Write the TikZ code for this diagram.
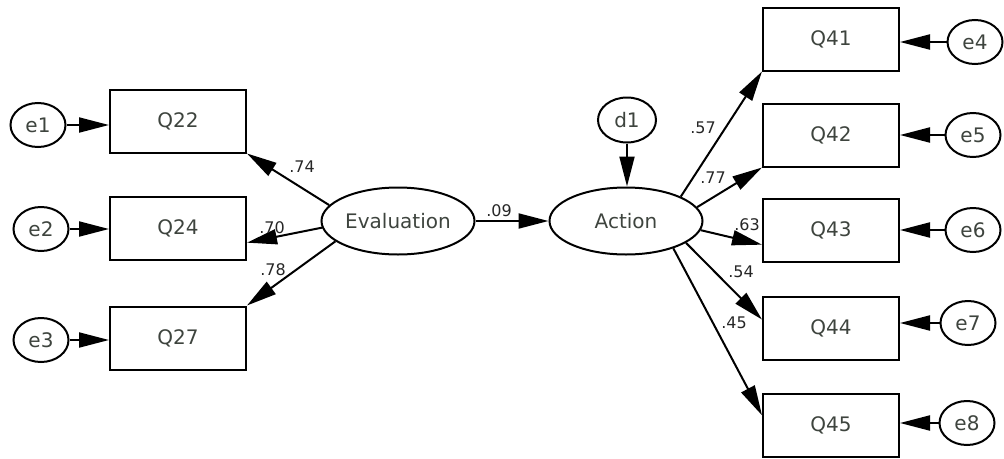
\documentclass[tikz,border=0pt]{standalone}
\usepackage{fontspec}
\setmainfont{DejaVu Sans}
\usetikzlibrary{arrows.meta,shapes.geometric}
\definecolor{txtgray}{RGB}{62,68,62}

\begin{document}
\begin{tikzpicture}[x=1pt,y=-1pt,
    obs/.style={draw,line width=2pt,minimum width=136pt,minimum height=63pt,
      font=\fontsize{20}{24}\selectfont,text=txtgray},
    lat/.style={draw,ellipse,line width=2pt,inner sep=0pt,minimum width=153pt,
      minimum height=67pt,font=\fontsize{20}{24}\selectfont,text=txtgray},
    err/.style={draw,ellipse,line width=2pt,inner sep=0pt,minimum width=55pt,
      minimum height=44pt,font=\fontsize{20}{24}\selectfont,text=txtgray},
    arr/.style={line width=2pt,-{Triangle[length=30pt,width=15pt]}},
    coef/.style={font=\fontsize{16}{18}\selectfont,text=black!85}]
    \useasboundingbox (0,0) rectangle (1004,458);

    % left measurement part
    \node[obs] (Q22) at (178,121) {Q22};
    \node[obs] (Q24) at (178,228) {Q24};
    \node[obs] (Q27) at (178,338) {Q27};
    \node[err] (e1) at (38,125) {e1};
    \node[err] (e2) at (41,229) {e2};
    \node[err] (e3) at (41,340) {e3};
    \foreach \e/\q in {e1/Q22,e2/Q24,e3/Q27}
        \draw[arr] (\e) -- (\e -| \q.west);

    % latent variables
    \node[lat] (Eval) at (398,221) {Evaluation};
    \node[lat] (Action) at (626,221) {Action};
    \node[err,minimum width=58pt,minimum height=45pt] (d1) at (627,120) {d1};
    \draw[arr] (d1) -- (d1 |- Action.north);
    \draw[arr] (Eval) -- (Action);

    % right measurement part
    \foreach \q/\y in {41/39,42/135,43/230,44/328,45/425}
        \node[obs] (Q\q) at (831,\y) {Q\q};
    \foreach \n/\x/\y in {4/975/42,5/973/135,6/973/230,7/968/323,8/967/423}
        \node[err] (e\n) at (\x,\y) {e\n};
    \foreach \n/\q in {4/41,5/42,6/43,7/44,8/45}
        \draw[arr] (e\n) -- (e\n -| Q\q.east);

    % loadings
    \draw[arr] (Eval.167) -- (Q22.south east);
    \draw[arr] (Eval.185) -- (Q24.-12);
    \draw[arr] (Eval.198) -- (Q27.north east);
    \draw[arr] (Action.24) -- (Q41.south west);
    \draw[arr] (Action.11) -- (Q42.south west);
    \draw[arr] (Action.-7) -- (Q43.192);
    \draw[arr] (Action.-20) -- (Q44.173);
    \draw[arr] (Action.-30) -- (Q45.172);

    \node[coef] (l22) at (302,167) {.74};
    \node[coef] (l24) at (272,228) {.70};
    \node[coef] (l27) at (273,270) {.78};
    \node[coef] (l09) at (499,211) {.09};
    \node[coef] (l41) at (703,128) {.57};
    \node[coef] (l42) at (713,178) {.77};
    \node[coef] (l43) at (747,225) {.63};
    \node[coef] (l44) at (741,272) {.54};
    \node[coef] (l45) at (734,323) {.45};
\end{tikzpicture}
\end{document}
